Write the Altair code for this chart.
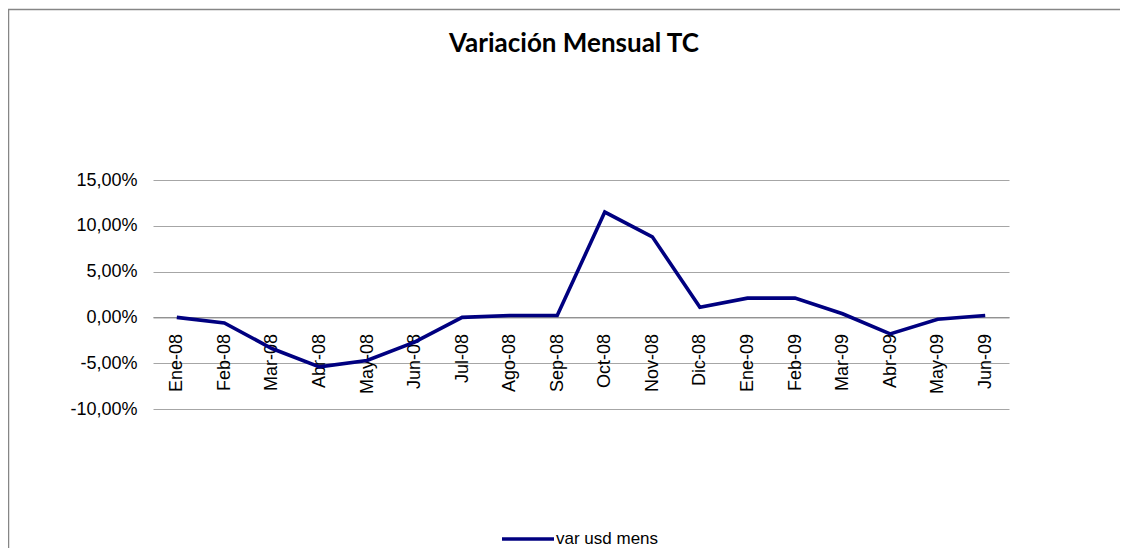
import altair as alt
import pandas as pd

months = ["Ene-08", "Feb-08", "Mar-08", "Abr-08", "May-08", "Jun-08", "Jul-08",
          "Ago-08", "Sep-08", "Oct-08", "Nov-08", "Dic-08", "Ene-09", "Feb-09",
          "Mar-09", "Abr-09", "May-09", "Jun-09"]
values = [0.000, -0.006, -0.034, -0.054, -0.047, -0.027, 0.000,
          0.002, 0.002, 0.115, 0.088, 0.011, 0.021, 0.021,
          0.004, -0.018, -0.002, 0.002]
series_name = "var usd mens"
title_text = "Variación Mensual TC"
y_ticks = [-0.10, -0.05, 0.0, 0.05, 0.10, 0.15]

W, H = 856, 229
PL, PT, PR, PB = 145, 172, 111, 139

df = pd.DataFrame({"mes": months, "valor": values, "serie": series_name})

y_scale = alt.Scale(domain=[-0.10, 0.15], nice=False, zero=False)
zero_off = -(H - H * 0.15 / 0.25)

line = alt.Chart(df).mark_line(strokeWidth=3.6).encode(
    x=alt.X("mes:N", sort=months, title=None,
            scale=alt.Scale(type="point", padding=0.5),
            axis=alt.Axis(orient="bottom", offset=zero_off, labelAngle=270,
                          labelAlign="right", labelBaseline="middle",
                          labelPadding=16, ticks=False, domain=True,
                          domainColor="#868686", labelFont="Liberation Sans",
                          labelFontSize=18, labelColor="#000000", grid=False)),
    y=alt.Y("valor:Q", scale=y_scale, title=None,
            axis=alt.Axis(values=y_ticks, grid=True, gridColor="#a6a6a6",
                          ticks=False, domain=False,
                          labelPadding=16, labelFont="Liberation Sans",
                          labelFontSize=18, labelColor="#000000",
                          labelExpr="replace(replace(format(datum.value, '.2%'), '.', ','), '\u2212', '-')")),
    color=alt.Color("serie:N", scale=alt.Scale(range=["#000080"]),
                    legend=alt.Legend(title=None, orient="none", legendX=347, legendY=331,
                                      direction="horizontal", symbolType="stroke",
                                      symbolSize=2704, symbolStrokeWidth=3.5,
                                      symbolStrokeColor="#000080", padding=0,
                                      labelFont="Liberation Sans", labelFontSize=17,
                                      labelColor="#000000", labelOffset=0)),
)

title = alt.Chart(pd.DataFrame({"t": [title_text]})).mark_text(
    font="Lato", fontWeight="bold", fontSize=26, color="#000000",
    align="center", baseline="alphabetic"
).encode(text="t:N", x=alt.value(421), y=alt.value(-128))

border = alt.Chart(pd.DataFrame({"a": [0]})).mark_rect(
    fill=None, stroke="#868686", strokeWidth=1.5
).encode(x=alt.value(-144.5), x2=alt.value(W + PR + 200),
         y=alt.value(-170.5), y2=alt.value(H + PB + 200))

chart = alt.layer(border, line, title).properties(
    width=W, height=H,
    autosize=alt.AutoSizeParams(type="none"),
    padding={"left": PL, "top": PT, "right": PR, "bottom": PB},
).configure(background="#ffffff", view=alt.ViewConfig(stroke=None))

chart.save("out.html", embed_options={"renderer": "svg", "actions": False})
